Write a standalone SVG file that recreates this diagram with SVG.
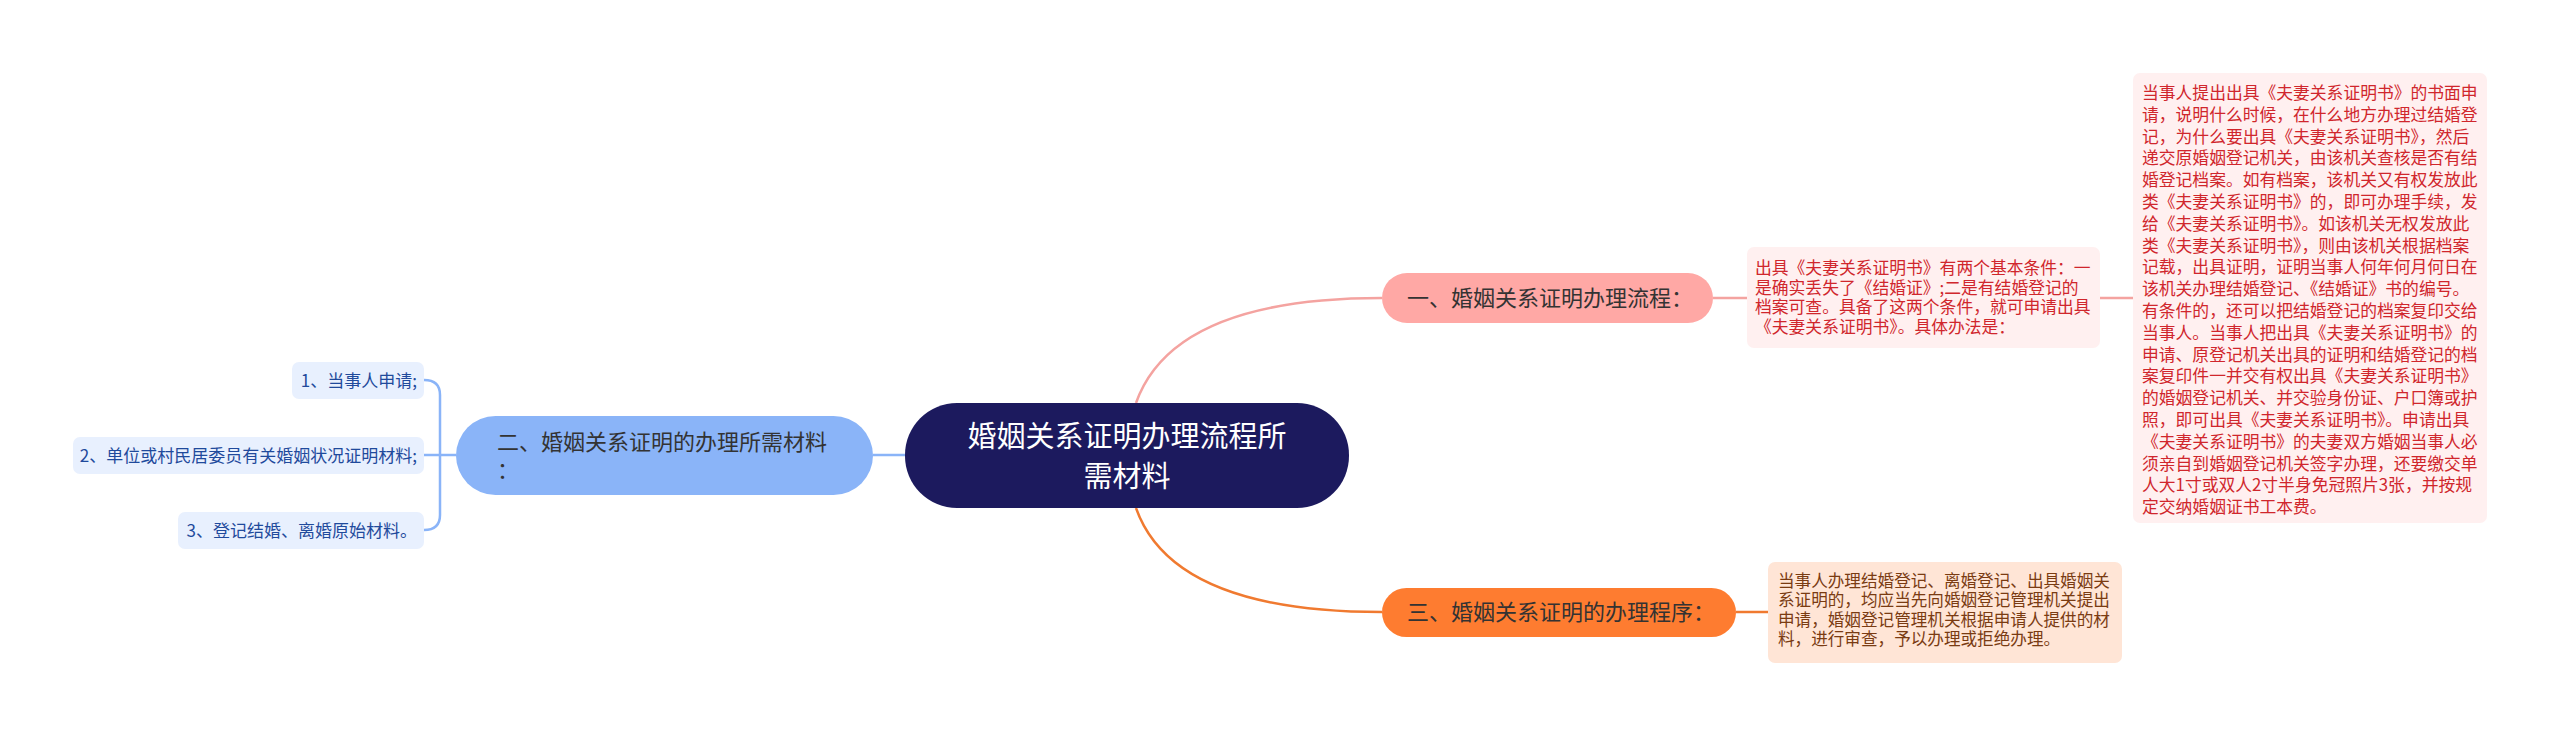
<svg xmlns="http://www.w3.org/2000/svg" width="2560" height="737" viewBox="0 0 2560 737">
<style>
text{font-family:"Noto Sans CJK SC","Noto Sans",sans-serif;}
.main{fill:#fff;font-size:29px;text-anchor:middle;}
.br{fill:#333;font-size:22px;}
.leaf{fill:#1f4a9c;font-size:17px;text-anchor:end;}
.red{fill:#d0262c;font-size:16.8px;}
.brown{fill:#7a3b12;font-size:16.6px;}
.con{fill:none;stroke-width:2.5;}
</style>
<rect width="2560" height="737" fill="#fff"/>
<g id="connectors">
<path class="con" stroke="#f4a3a0" d="M1136,403 C1160,335 1240,298 1382,298"/>
<path class="con" stroke="#f07a30" d="M1136,508 C1160,576 1240,612 1382,612"/>
<path class="con" stroke="#8ab4f8" d="M873,455 L905,455"/>
<path class="con" stroke="#f4a3a0" d="M1713,298 L1747,298"/>
<path class="con" stroke="#f4a3a0" d="M2100,298 L2133,298"/>
<path class="con" stroke="#f07a30" d="M1736,612 L1768,612"/>
<path class="con" stroke="#8ab4f8" d="M456,455 L424,455"/>
<path class="con" stroke="#8ab4f8" d="M424,380 Q440,380 440,395 L440,515 Q440,530 424,530"/>
</g>
<g id="center">
<rect x="905" y="403" width="444" height="105" rx="52" fill="#1c1a5e"/>
<text class="main" x="1127" y="447">婚姻关系证明办理流程所</text>
<text class="main" x="1127" y="487">需材料</text>
</g>
<g id="node1">
<rect x="1382" y="273" width="331" height="50" rx="25" fill="#ffa8a5"/>
<text class="br" x="1407" y="306">一、婚姻关系证明办理流程：</text>
</g>
<g id="node3">
<rect x="1382" y="588" width="354" height="49" rx="24.5" fill="#fe7c30"/>
<text class="br" x="1407" y="620">三、婚姻关系证明的办理程序：</text>
</g>
<g id="node2">
<rect x="456" y="416" width="417" height="79" rx="39.5" fill="#8ab4f8"/>
<text class="br" x="497" y="450">二、婚姻关系证明的办理所需材料</text>
<text class="br" x="497" y="478">：</text>
</g>
<g id="leaf1">
<rect x="292" y="362" width="132" height="37" rx="7" fill="#e8f0fe"/>
<text class="leaf" x="417" y="387">1、当事人申请;</text>
</g>
<g id="leaf2">
<rect x="73" y="437" width="351" height="37" rx="7" fill="#e8f0fe"/>
<text class="leaf" x="417" y="462">2、单位或村民居委员有关婚姻状况证明材料;</text>
</g>
<g id="leaf3">
<rect x="178" y="512" width="246" height="37" rx="7" fill="#e8f0fe"/>
<text class="leaf" x="417" y="537">3、登记结婚、离婚原始材料。</text>
</g>
<g id="text1">
<rect x="1747" y="247" width="353" height="101" rx="7" fill="#fff0f0"/>
<text class="red">
<tspan x="1755" y="274">出具《夫妻关系证明书》有两个基本条件：一</tspan>
<tspan x="1755" y="293.5">是确实丢失了《结婚证》;二是有结婚登记的</tspan>
<tspan x="1755" y="313">档案可查。具备了这两个条件，就可申请出具</tspan>
<tspan x="1755" y="332.5">《夫妻关系证明书》。具体办法是：</tspan>
</text>
</g>
<g id="text2">
<rect x="2133" y="73" width="354" height="450" rx="7" fill="#fff0f0"/>
<text class="red">
<tspan x="2142" y="99">当事人提出出具《夫妻关系证明书》的书面申</tspan>
<tspan x="2142" y="120.8">请，说明什么时候，在什么地方办理过结婚登</tspan>
<tspan x="2142" y="142.6">记，为什么要出具《夫妻关系证明书》，然后</tspan>
<tspan x="2142" y="164.4">递交原婚姻登记机关，由该机关查核是否有结</tspan>
<tspan x="2142" y="186.2">婚登记档案。如有档案，该机关又有权发放此</tspan>
<tspan x="2142" y="208">类《夫妻关系证明书》的，即可办理手续，发</tspan>
<tspan x="2142" y="229.8">给《夫妻关系证明书》。如该机关无权发放此</tspan>
<tspan x="2142" y="251.6">类《夫妻关系证明书》，则由该机关根据档案</tspan>
<tspan x="2142" y="273.4">记载，出具证明，证明当事人何年何月何日在</tspan>
<tspan x="2142" y="295.2">该机关办理结婚登记、《结婚证》书的编号。</tspan>
<tspan x="2142" y="317">有条件的，还可以把结婚登记的档案复印交给</tspan>
<tspan x="2142" y="338.8">当事人。当事人把出具《夫妻关系证明书》的</tspan>
<tspan x="2142" y="360.6">申请、原登记机关出具的证明和结婚登记的档</tspan>
<tspan x="2142" y="382.4">案复印件一并交有权出具《夫妻关系证明书》</tspan>
<tspan x="2142" y="404.2">的婚姻登记机关、并交验身份证、户口簿或护</tspan>
<tspan x="2142" y="426">照，即可出具《夫妻关系证明书》。申请出具</tspan>
<tspan x="2142" y="447.8">《夫妻关系证明书》的夫妻双方婚姻当事人必</tspan>
<tspan x="2142" y="469.6">须亲自到婚姻登记机关签字办理，还要缴交单</tspan>
<tspan x="2142" y="491.4">人大1寸或双人2寸半身免冠照片3张，并按规</tspan>
<tspan x="2142" y="513.2">定交纳婚姻证书工本费。</tspan>
</text>
</g>
<g id="text3">
<rect x="1768" y="562" width="354" height="101" rx="7" fill="#ffe5d6"/>
<text class="brown">
<tspan x="1778" y="587">当事人办理结婚登记、离婚登记、出具婚姻关</tspan>
<tspan x="1778" y="606.3">系证明的，均应当先向婚姻登记管理机关提出</tspan>
<tspan x="1778" y="625.6">申请，婚姻登记管理机关根据申请人提供的材</tspan>
<tspan x="1778" y="644.9">料，进行审查，予以办理或拒绝办理。</tspan>
</text>
</g>
</svg>
